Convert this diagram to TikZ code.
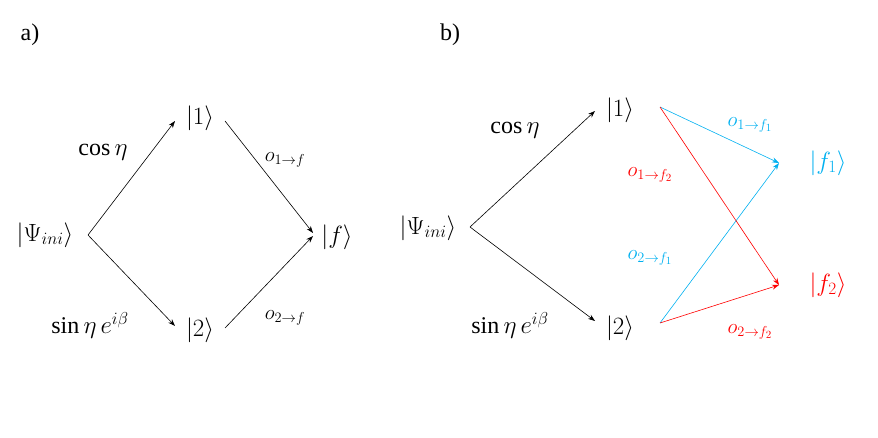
\documentclass[tikz,border=0pt]{standalone}
\usepackage{fontspec}
\setmainfont{Liberation Serif}
\usetikzlibrary{arrows.meta}
\definecolor{cblue}{HTML}{00B0F0}
\definecolor{cred}{HTML}{FF0000}
\tikzset{
  lbl/.style={font=\fontsize{24}{28}\selectfont, inner sep=0pt},
  sm/.style={font=\fontsize{22}{26}\selectfont, inner sep=0pt},
  arr/.style={-{Stealth[length=7pt,width=5pt]}, line width=0.6pt},
}
\begin{document}
\begin{tikzpicture}[x=1pt,y=-1pt]
\useasboundingbox (0,0) rectangle (878,438);
% a)
\node[lbl] (la) at (30,35) {a)};
\node[lbl] (psiA) at (45,235) {$\left|\Psi_{ini}\right\rangle$};
\node[lbl] (oneA) at (200,118) {$|1\rangle$};
\node[lbl] (twoA) at (200,330) {$|2\rangle$};
\node[lbl] (fA) at (337,237) {$|f\rangle$};
\node[lbl] (cA) at (103,152) {$\cos\eta$};
\node[lbl] (sA) at (90,325) {$\sin\eta\, e^{i\beta}$};
\node[sm] (o1A) at (285,160) {$o_{1\to f}$};
\node[sm] (o2A) at (285,318) {$o_{2\to f}$};
\coordinate (a0) at (88,235);
\coordinate (a1) at (175,121);
\coordinate (a2) at (175,326);
\coordinate (a3) at (225,121);
\coordinate (a4) at (225,328);
\coordinate (a5) at (313,233);
\coordinate (a6) at (313,236);
\draw[arr] (a0) -- (a1);
\draw[arr] (a0) -- (a2);
\draw[arr] (a3) -- (a5);
\draw[arr] (a4) -- (a6);
% b)
\node[lbl] (lb) at (450,35) {b)};
\node[lbl] (psiB) at (428,228) {$\left|\Psi_{ini}\right\rangle$};
\node[lbl] (oneB) at (620,110) {$|1\rangle$};
\node[lbl] (twoB) at (620,328) {$|2\rangle$};
\node[lbl,text=cblue] (f1) at (828,163) {$\left|f_1\right\rangle$};
\node[lbl,text=cred] (f2) at (828,285) {$\left|f_2\right\rangle$};
\node[lbl] (cB) at (515,130) {$\cos\eta$};
\node[lbl] (sB) at (510,325) {$\sin\eta\, e^{i\beta}$};
\node[sm,text=cblue] (o11) at (750,125) {$o_{1\to f_1}$};
\node[sm,text=cred] (o12) at (650,175) {$o_{1\to f_2}$};
\node[sm,text=cblue] (o21) at (650,258) {$o_{2\to f_1}$};
\node[sm,text=cred] (o22) at (750,332) {$o_{2\to f_2}$};
\coordinate (b0) at (470,227);
\coordinate (b1) at (595,111);
\coordinate (b2) at (595,321);
\coordinate (b3) at (660,107);
\coordinate (b4) at (660,323);
\coordinate (b5) at (779,163);
\coordinate (b6) at (779,285);
\draw[arr] (b0) -- (b1);
\draw[arr] (b0) -- (b2);
\draw[arr,cblue] (b3) -- (b5);
\draw[arr,cblue] (b4) -- (b5);
\draw[arr,cred] (b3) -- (b6);
\draw[arr,cred] (b4) -- (b6);
\end{tikzpicture}
\end{document}
